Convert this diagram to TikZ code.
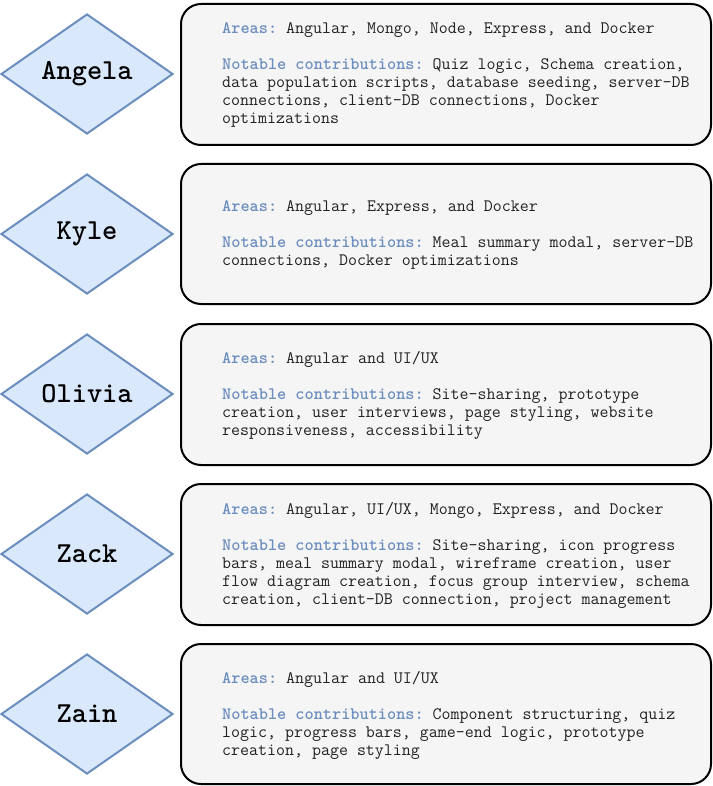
\documentclass[tikz,border=0pt]{standalone}
\usepackage{fontspec}
\usetikzlibrary{shapes.geometric}
\definecolor{dfill}{HTML}{DAE8FC}
\definecolor{dline}{HTML}{6C8EBF}
\definecolor{bfill}{HTML}{F5F5F5}
\definecolor{tcol}{HTML}{222222}
\newcommand{\lbl}[1]{\textcolor{dline}{\textbf{#1}}}
\tikzset{
  person/.style={diamond, draw=dline, fill=dfill, line width=2pt, inner sep=0pt,
    aspect=1.43, minimum width=172pt, minimum height=120pt,
    font=\ttfamily\fontsize{29}{31}\selectfont\bfseries, text=black},
  card/.style={draw=black, fill=bfill, line width=2pt, rounded corners=20pt},
  info/.style={anchor=west, align=left, inner sep=0pt, text=tcol,
    font=\ttfamily\frenchspacing\fontsize{17.45}{18}\selectfont}
}
\begin{document}
\begin{tikzpicture}[x=1pt,y=1pt]
\useasboundingbox (0,0) rectangle (712,-786);
% Angela
\node[person] (angela) at (87,-74) {Angela};
\draw[card] (181,-4) rectangle (711,-145);
\node[info] (angelat) at (222,-75) {\lbl{Areas:} Angular, Mongo, Node, Express, and Docker\\[18pt]
\lbl{Notable contributions:} Quiz logic, Schema creation,\\
data population scripts, database seeding, server-DB\\
connections, client-DB connections, Docker\\
optimizations};
% Kyle
\node[person] (kyle) at (87,-234) {Kyle};
\draw[card] (181,-164) rectangle (711,-304);
\node[info] (kylet) at (222,-235) {\lbl{Areas:} Angular, Express, and Docker\\[18pt]
\lbl{Notable contributions:} Meal summary modal, server-DB\\
connections, Docker optimizations};
% Olivia
\node[person] (olivia) at (87,-394) {Olivia};
\draw[card] (181,-324) rectangle (711,-465);
\node[info] (oliviat) at (222,-395) {\lbl{Areas:} Angular and UI/UX\\[18pt]
\lbl{Notable contributions:} Site-sharing, prototype\\
creation, user interviews, page styling, website\\
responsiveness, accessibility};
% Zack
\node[person] (zack) at (87,-554) {Zack};
\draw[card] (181,-484) rectangle (711,-625);
\node[info] (zackt) at (222,-555) {\lbl{Areas:} Angular, UI/UX, Mongo, Express, and Docker\\[18pt]
\lbl{Notable contributions:} Site-sharing, icon progress\\
bars, meal summary modal, wireframe creation, user\\
flow diagram creation, focus group interview, schema\\
creation, client-DB connection, project management};
% Zain
\node[person] (zain) at (87,-714) {Zain};
\draw[card] (181,-644) rectangle (711,-784);
\node[info] (zaint) at (222,-715) {\lbl{Areas:} Angular and UI/UX\\[18pt]
\lbl{Notable contributions:} Component structuring, quiz\\
logic, progress bars, game-end logic, prototype\\
creation, page styling};
\end{tikzpicture}
\end{document}
